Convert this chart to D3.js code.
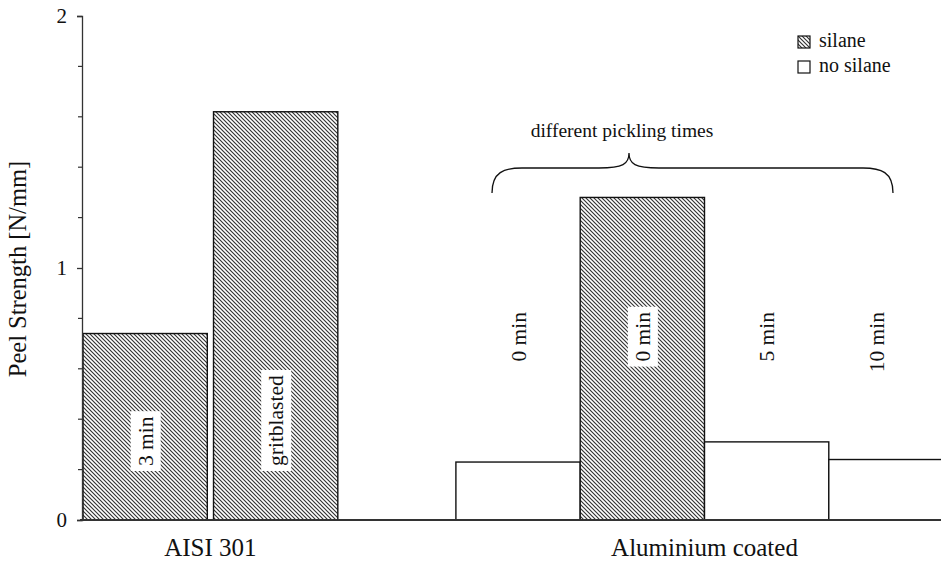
<!DOCTYPE html>
<html>
<head>
<meta charset="utf-8">
<script src="https://cdn.jsdelivr.net/npm/d3@7"></script>
<style>
  html, body { margin: 0; padding: 0; background: #fff; }
  svg { display: block; }
  svg text { font-family: "Liberation Serif", "Times New Roman", Tinos, serif; }
</style>
</head>
<body>
<svg id="chart" width="941" height="562" font-family="Liberation Serif, Times New Roman, serif"></svg>
<script>
// Peel strength of bonded samples, grouped by substrate
const groups = ["AISI 301", "Aluminium coated"];
const barGroup = [0, 0, 1, 1, 1, 1];
const barSilane = [true, true, false, true, false, false];
const barValues = [0.74, 1.62, 0.23, 1.28, 0.31, 0.24];
const barLabels = ["3 min", "gritblasted", "0 min", "0 min", "5 min", "10 min"];
const yTicks = [0, 1, 2];
const yMinorStep = 0.2;
const legendItems = ["silane", "no silane"];
const yTitle = "Peel Strength [N/mm]";
const braceText = "different pickling times";

const FONT = "Liberation Serif";
const W = 941, H = 562;

function txt(sel, size) {
  return sel.style("font-family", FONT).style("font-size", size + "px").attr("fill", "#111");
}

function draw() {
  const svg = d3.select("#chart");

  // hatch fill for silane-treated samples
  const defs = svg.append("defs");
  const pat = defs.append("pattern")
    .attr("id", "hatch")
    .attr("patternUnits", "userSpaceOnUse")
    .attr("width", 4).attr("height", 4);
  pat.append("rect").attr("width", 4).attr("height", 4).attr("fill", "#fff");
  pat.append("path")
    .attr("d", "M-1,-1 L5,5 M-1,3 L1,5 M3,-1 L5,1")
    .attr("stroke", "#333").attr("stroke-width", 1.15);

  // slot layout: each bar is one slot wide; groups are separated by a gap
  const innerGap = [0.05, 0];
  const groupGap = 0.95;
  const slotStart = [];
  let cursor = 0;
  groups.forEach((g, gi) => {
    const idx = barGroup.map((b, i) => b === gi ? i : -1).filter(i => i >= 0);
    idx.forEach((i, k) => {
      slotStart[i] = cursor;
      cursor += 1 + (k < idx.length - 1 ? innerGap[gi] : 0);
    });
    cursor += groupGap;
  });

  const x = d3.scaleLinear().domain([0, 7]).range([83, 83 + 7 * 124.3]);
  const y = d3.scaleLinear().domain([0, 2]).range([520, 16]);

  // bars
  const bars = barValues.map((v, i) => ({
    v, i, silane: barSilane[i], label: barLabels[i], group: barGroup[i],
    x0: x(slotStart[i]), x1: x(slotStart[i] + 1)
  }));

  svg.append("g").selectAll("rect")
    .data(bars).join("rect")
    .attr("x", d => d.x0)
    .attr("y", d => y(d.v))
    .attr("width", d => d.x1 - d.x0)
    .attr("height", d => y(0) - y(d.v))
    .attr("fill", d => d.silane ? "url(#hatch)" : "#fff")
    .attr("stroke", "#111")
    .attr("stroke-width", 1.4);

  // baseline
  svg.append("line")
    .attr("x1", 80).attr("x2", W)
    .attr("y1", y(0)).attr("y2", y(0))
    .attr("stroke", "#333").attr("stroke-width", 1.8);

  // y axis with major and minor ticks
  const yAxis = d3.axisLeft(y).tickValues(yTicks).tickFormat(d3.format("d"))
    .tickSize(5).tickPadding(10);
  const gy = svg.append("g").attr("transform", "translate(82,0)").call(yAxis);
  gy.attr("font-family", null);
  gy.select(".domain").attr("stroke", "#333").attr("stroke-width", 1.3);
  gy.selectAll(".tick line").attr("stroke", "#333").attr("stroke-width", 1.3);
  txt(gy.selectAll(".tick text"), 21);
  const minor = d3.range(0, 2 + 1e-9, yMinorStep).filter(v => !yTicks.some(t => Math.abs(t - v) < 1e-6));
  gy.selectAll(".minor").data(minor).join("line")
    .attr("class", "minor")
    .attr("x1", -4).attr("x2", 0)
    .attr("y1", d => y(d)).attr("y2", d => y(d))
    .attr("stroke", "#333").attr("stroke-width", 1.2);

  // y axis title
  txt(svg.append("text"), 24.5)
    .attr("transform", `translate(26,${(y(0) + y(2)) / 2 + 1}) rotate(-90)`)
    .attr("text-anchor", "middle")
    .text(yTitle);

  // group labels
  groups.forEach((g, gi) => {
    const gb = bars.filter(b => b.group === gi);
    const cx = (d3.min(gb, b => b.x0) + d3.max(gb, b => b.x1)) / 2;
    txt(svg.append("text"), 25)
      .attr("x", cx).attr("y", 556)
      .attr("text-anchor", "middle")
      .text(g);
  });

  // rotated bar labels; white backing where they sit on hatching
  const labelLayer = svg.append("g");
  bars.forEach(b => {
    const cx = Math.min((b.x0 + b.x1) / 2, (b.x0 + W) / 2 - 8);
    const anchorY = b.group === 0 ? 466 : 312;
    const start = b.group === 0;
    const g = labelLayer.append("g")
      .attr("transform", `translate(${cx},${anchorY}) rotate(-90)`);
    const t = txt(g.append("text"), 21.5)
      .attr("x", 0).attr("y", 0)
      .attr("dy", "0.35em")
      .attr("text-anchor", start ? "start" : "end")
      .text(b.label);
    if (b.silane) {
      const bb = t.node().getBBox();
      g.insert("rect", "text")
        .attr("x", bb.x - 5).attr("y", bb.y - 3)
        .attr("width", bb.width + 10).attr("height", bb.height + 6)
        .attr("fill", "#fff");
    }
  });

  // brace spanning the aluminium samples
  const bx0 = 492, bx1 = 893, tip = 629;
  const yEnd = 193, yMid = 168, yTip = 153, r = 30;
  const brace = d3.path();
  brace.moveTo(bx0, yEnd);
  brace.bezierCurveTo(bx0, yMid + 4, bx0 + r * 0.4, yMid, bx0 + r, yMid);
  brace.lineTo(tip - r, yMid);
  brace.bezierCurveTo(tip - 6, yMid, tip, yMid - 4, tip, yTip);
  brace.bezierCurveTo(tip, yMid - 4, tip + 6, yMid, tip + r, yMid);
  brace.lineTo(bx1 - r, yMid);
  brace.bezierCurveTo(bx1 - r * 0.4, yMid, bx1, yMid + 4, bx1, yEnd);
  svg.append("path")
    .attr("d", brace.toString())
    .attr("fill", "none").attr("stroke", "#111").attr("stroke-width", 1.3);
  txt(svg.append("text"), 19.5)
    .attr("x", 622).attr("y", 137)
    .attr("text-anchor", "middle")
    .text(braceText);

  // legend
  const legend = svg.append("g").attr("transform", "translate(798,36)");
  legendItems.forEach((name, i) => {
    const row = legend.append("g").attr("transform", `translate(0,${i * 25})`);
    row.append("rect")
      .attr("width", 12).attr("height", 12)
      .attr("fill", i === 0 ? "url(#hatch)" : "#fff")
      .attr("stroke", "#111").attr("stroke-width", 1.2);
    txt(row.append("text"), 20)
      .attr("x", 21).attr("y", 11)
      .text(name);
  });
}

draw();
</script>
</body>
</html>
